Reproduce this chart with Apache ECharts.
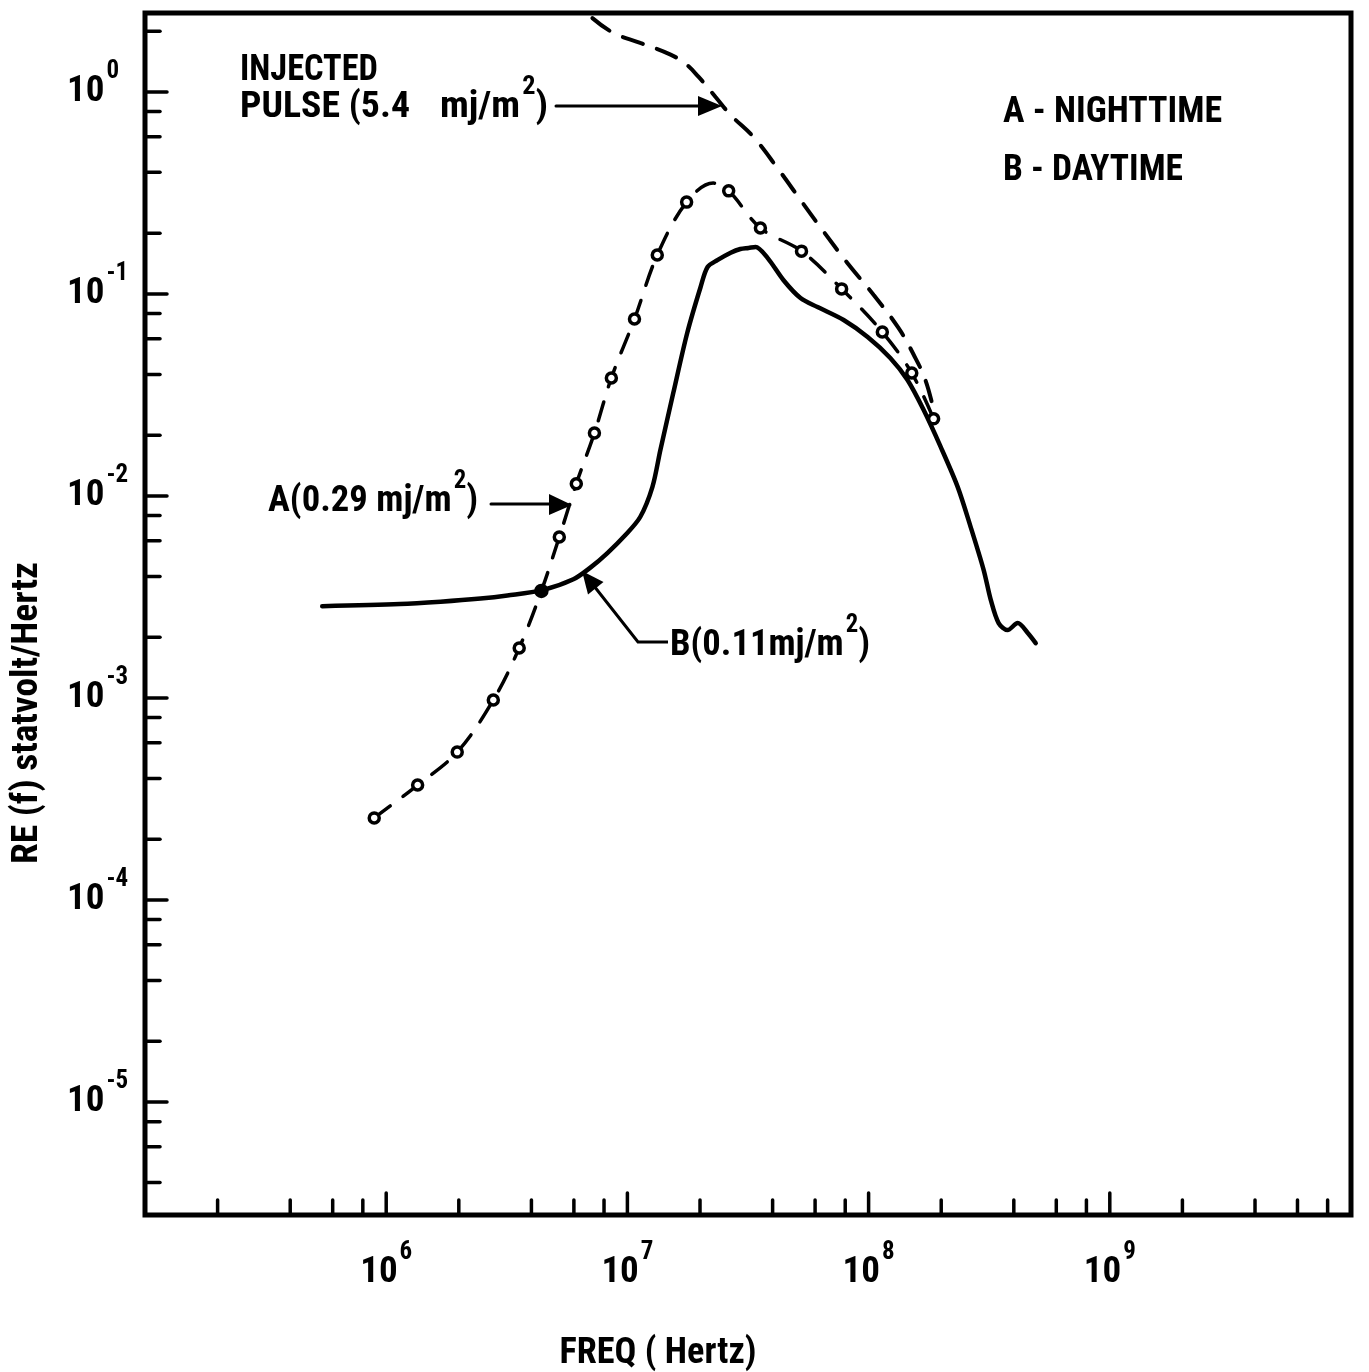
<!DOCTYPE html>
<html>
<head>
<meta charset="utf-8">
<script src="https://cdn.jsdelivr.net/npm/echarts@6/dist/echarts.min.js"></script>
<style>
html,body{margin:0;padding:0;background:#fff;}
#chart{width:1369px;height:1372px;}
</style>
</head>
<body>
<div id="chart"></div>
<script>
// ---------------- data ----------------
const xMin = 1e5, xMax = 1e10;
const yMin = 2.76e-6, yMax = 2.46;

const xLabelExps = [6, 7, 8, 9];
const yLabelExps = [0, -1, -2, -3, -4, -5];

const xMajorTicks = [1e6, 1e7, 1e8, 1e9];
const xMinorTicks = [2e5, 4e5, 6e5, 8e5, 2e6, 4e6, 6e6, 8e6, 2e7, 4e7, 6e7, 8e7,
                     2e8, 4e8, 6e8, 8e8, 2e9, 4e9, 6e9, 8e9];
const yMajorTicks = [1, 1e-1, 1e-2, 1e-3, 1e-4, 1e-5];
const yMinorTicks = [4e-6, 6e-6, 8e-6, 2e-5, 4e-5, 6e-5, 8e-5, 2e-4, 4e-4, 6e-4, 8e-4,
                     2e-3, 4e-3, 6e-3, 8e-3, 2e-2, 4e-2, 6e-2, 8e-2, 0.2, 0.4, 0.6, 0.8, 2];

// Injected pulse (dashed)
const pulseFreq = [7.16e6, 8.75e6, 1.13e7, 1.51e7, 1.74e7, 1.97e7, 2.32e7, 2.68e7, 3.33e7,
                   4.19e7, 5.22e7, 6.44e7, 8.18e7, 1.05e8, 1.33e8, 1.54e8, 1.72e8, 1.86e8];
const pulseVal  = [2.32, 1.96, 1.75, 1.53, 1.38, 1.19, 0.945, 0.769, 0.599,
                   0.420, 0.292, 0.207, 0.142, 0.0989, 0.0679, 0.0499, 0.0375, 0.0267];

// A - nighttime (circles, dashed)
const aFreq = [8.92e5, 1.35e6, 1.97e6, 2.78e6, 3.56e6, 4.40e6, 5.22e6, 6.14e6, 7.30e6, 8.58e6,
               1.07e7, 1.33e7, 1.76e7, 2.63e7, 3.56e7, 5.27e7, 7.73e7, 1.14e8, 1.51e8, 1.86e8];
const aVal  = [2.55e-4, 3.71e-4, 5.40e-4, 9.78e-4, 1.77e-3, 3.39e-3, 6.27e-3, 1.15e-2, 2.05e-2, 3.84e-2,
               7.52e-2, 0.156, 0.285, 0.324, 0.212, 0.163, 0.106, 0.0648, 0.0406, 0.0241];
// crest of the dashed A curve between two circles
const aPeakFreq = [2.27e7];
const aPeakVal  = [0.354];

// B - daytime (solid)
const bFreq = [5.43e5, 1.14e6, 1.68e6, 2.46e6, 3.18e6, 4.44e6, 5.97e6, 7.02e6, 8.26e6, 9.81e6,
               1.13e7, 1.27e7, 1.37e7, 1.55e7, 1.77e7, 2.01e7, 2.15e7, 2.36e7, 2.68e7, 2.94e7,
               3.18e7, 3.40e7, 3.81e7, 4.44e7, 5.22e7, 6.14e7, 7.88e7, 9.91e7, 1.23e8, 1.45e8,
               1.69e8, 1.99e8, 2.34e8, 2.65e8, 3.00e8, 3.21e8, 3.46e8, 3.77e8, 4.15e8, 4.57e8, 4.93e8];
const bVal  = [2.85e-3, 2.92e-3, 3.00e-3, 3.11e-3, 3.22e-3, 3.42e-3, 3.87e-3, 4.42e-3, 5.22e-3, 6.41e-3,
               7.87e-3, 1.11e-2, 1.69e-2, 3.24e-2, 6.41e-2, 0.108, 0.136, 0.147, 0.160, 0.167,
               0.169, 0.171, 0.151, 0.117, 0.0955, 0.0862, 0.0743, 0.0612, 0.0482, 0.0375,
               0.0267, 0.0175, 0.0111, 7.02e-3, 4.30e-3, 3.06e-3, 2.35e-3, 2.17e-3, 2.35e-3, 2.10e-3, 1.87e-3];

// ---------------- fonts ----------------
function hasFont(name) {
  const c = document.createElement('canvas').getContext('2d');
  const s = 'mmmmmmmmmmlli10NIGHTTIME';
  let diff = false;
  ['monospace', 'serif'].forEach(fb => {
    c.font = 'bold 40px ' + fb; const a = c.measureText(s).width;
    c.font = 'bold 40px "' + name + '", ' + fb; const b = c.measureText(s).width;
    if (Math.abs(a - b) > 0.5) diff = true;
  });
  return diff;
}
const narrowCandidates = ['Liberation Sans Narrow', 'Arial Narrow', 'Roboto Condensed',
                          'Noto Sans Condensed', 'Open Sans Condensed', 'DejaVu Sans Condensed'];
let chosen = narrowCandidates.find(hasFont) || 'DejaVu Sans Condensed';
const FONT = '"' + chosen + '", "DejaVu Sans Condensed", sans-serif';

// ---------------- chart ----------------
const A_FILLED_INDEX = 5; // the circle where curve A meets curve B is drawn solid
const MAIN = 37, SUP = 25;

const zip = (xs, ys) => xs.map((x, i) => [x, ys[i]]);
const aLineData = zip(aFreq, aVal).concat(zip(aPeakFreq, aPeakVal)).sort((p, q) => p[0] - q[0]);

const labelRich = {
  b: {fontSize: MAIN, fontWeight: 'bold', fontFamily: FONT, color: '#000', verticalAlign: 'middle'},
  s: {fontSize: SUP, fontWeight: 'bold', fontFamily: FONT, color: '#000', verticalAlign: 'middle', padding: [0, 0, 40, 2]}
};
const gRich = {
  b: {fontSize: MAIN, fontWeight: 'bold', fontFamily: FONT, fill: '#000', verticalAlign: 'middle'},
  s: {fontSize: SUP, fontWeight: 'bold', fontFamily: FONT, fill: '#000', verticalAlign: 'middle', padding: [0, 0, 40, 2]}
};

function powLabel(allowed) {
  return function (v) {
    const e = Math.log10(v);
    const r = Math.round(e);
    if (Math.abs(e - r) > 1e-6 || allowed.indexOf(r) < 0) return '';
    return '{b|10}{s|' + r + '}';
  };
}

function tickSeries(values, dim, len) {
  return {
    type: 'custom', silent: true, z: 6,
    data: values.map(v => dim === 'x' ? [v, yMin] : [xMin, v]),
    encode: {x: 0, y: 1},
    renderItem: function (params, api) {
      const p = api.coord([api.value(0), api.value(1)]);
      const shape = dim === 'x'
        ? {x1: p[0], y1: p[1], x2: p[0], y2: p[1] - len}
        : {x1: p[0], y1: p[1], x2: p[0] + len, y2: p[1]};
      return {type: 'line', shape: shape, style: {stroke: '#000', lineWidth: 3.5, lineCap: 'round'}};
    }
  };
}

// annotation text, horizontally fitted to the width it has in the reference
const mctx = document.createElement('canvas').getContext('2d');
function measure(tokens) {
  let w = 0;
  tokens.forEach(t => {
    mctx.font = 'bold ' + (t[1] ? SUP : MAIN) + 'px ' + FONT;
    w += mctx.measureText(t[0]).width + (t[1] ? 2 : 0);
  });
  return w;
}
function note(x, y, tokens, targetWidth, align, rotation) {
  const text = tokens.map(t => '{' + (t[1] ? 's' : 'b') + '|' + t[0] + '}').join('');
  return {
    type: 'text', x: x, y: y, z: 100, rotation: rotation || 0,
    scaleX: targetWidth / measure(tokens),
    style: {text: text, rich: gRich, align: align || 'left', verticalAlign: 'middle'}
  };
}
const seg = (x1, y1, x2, y2) => ({type: 'line', z: 100, shape: {x1, y1, x2, y2}, style: {stroke: '#000', lineWidth: 3, lineCap: 'round'}});
const head = pts => ({type: 'polygon', z: 100, shape: {points: pts}, style: {fill: '#000'}});

const chart = echarts.init(document.getElementById('chart'), null, {renderer: 'canvas'});
chart.setOption({
  animation: false,
  backgroundColor: '#fff',
  grid: {left: 145, top: 13, width: 1206, height: 1202, show: true, borderColor: '#000', borderWidth: 5, containLabel: false},
  xAxis: {
    type: 'log', logBase: 10, min: xMin, max: xMax,
    axisLine: {show: false}, axisTick: {show: false}, splitLine: {show: false}, minorTick: {show: false},
    axisLabel: {formatter: powLabel(xLabelExps), rich: labelRich, margin: 25, color: '#000'}
  },
  yAxis: {
    type: 'log', logBase: 10, min: yMin, max: yMax,
    axisLine: {show: false}, axisTick: {show: false}, splitLine: {show: false}, minorTick: {show: false},
    axisLabel: {formatter: powLabel(yLabelExps), rich: labelRich, margin: 78, align: 'left', color: '#000'}
  },
  series: [
    {type: 'line', name: 'Injected pulse', data: zip(pulseFreq, pulseVal), symbol: 'none', smooth: 0.4,
     lineStyle: {color: '#000', width: 4, type: [21, 15], cap: 'round'}, z: 3},
    {type: 'line', name: 'A', data: aLineData, symbol: 'none', smooth: 0.35,
     lineStyle: {color: '#000', width: 3.5, type: [20, 16], cap: 'round'}, z: 3},
    {type: 'line', name: 'B', data: zip(bFreq, bVal), symbol: 'none', smooth: 0.3,
     lineStyle: {color: '#000', width: 4.5, cap: 'round', join: 'round'}, z: 4},
    {type: 'scatter', name: 'A points', z: 5, symbol: 'circle', symbolSize: 10,
     itemStyle: {color: '#fff', borderColor: '#000', borderWidth: 3.5, opacity: 1},
     data: aFreq.map((f, i) => i === A_FILLED_INDEX
        ? {value: [f, aVal[i]], symbolSize: 11, itemStyle: {color: '#000'}}
        : [f, aVal[i]])},
    tickSeries(xMajorTicks, 'x', 22),
    tickSeries(xMinorTicks, 'x', 15),
    tickSeries(yMajorTicks, 'y', 22),
    tickSeries(yMinorTicks, 'y', 15)
  ],
  graphic: [
    note(240, 71, [['INJECTED']], 138),
    note(240, 108, [['PULSE (5.4']], 170),
    note(440, 108, [['mj/m'], ['2', 1], [')']], 108),
    seg(556, 106, 702, 106), head([[698, 96], [722, 106], [698, 116]]),
    note(1003, 113, [['A - NIGHTTIME']], 219),
    note(1003, 171, [['B - DAYTIME']], 180),
    note(268, 502, [['A(0.29 mj/m'], ['2', 1], [')']], 210),
    seg(491, 504, 553, 504), head([[549, 494], [572, 505], [549, 515]]),
    note(670, 646, [['B(0.11mj/m'], ['2', 1], [')']], 200),
    {type: 'polyline', z: 100, shape: {points: [[668, 642], [638, 642], [594, 586]]}, style: {stroke: '#000', lineWidth: 3, fill: null}},
    head([[582, 571], [603.5, 582], [588, 594.5]]),
    note(28, 713, [['RE (f) statvolt/Hertz']], 302, 'center', Math.PI / 2),
    note(658, 1354, [['FREQ ( Hertz)']], 197, 'center')
  ]
});
</script>
</body>
</html>
